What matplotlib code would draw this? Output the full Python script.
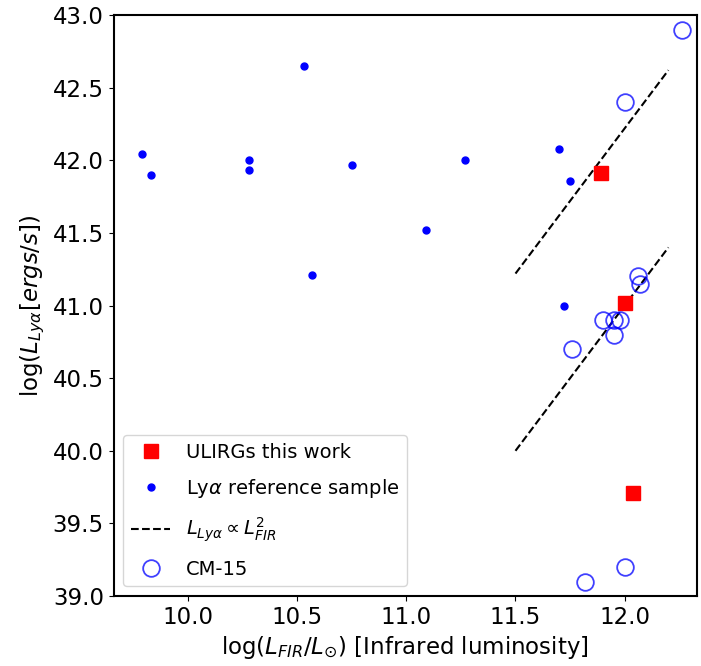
import matplotlib
matplotlib.use('Agg')
import matplotlib.pyplot as plt

# ULIRGs this work
ulirg_x = [11.89, 12.00, 12.04]
ulirg_y = [41.91, 41.02, 39.71]

# Lya reference sample
ref_x = [9.79, 9.83, 10.28, 10.28, 10.53, 10.57, 10.75, 11.09, 11.27, 11.70, 11.72, 11.75]
ref_y = [42.04, 41.90, 42.00, 41.93, 42.65, 41.21, 41.97, 41.52, 42.00, 42.08, 41.00, 41.86]

# CM-15
cm_x = [12.26, 12.00, 12.06, 12.07, 11.90, 11.95, 11.98, 11.95, 11.76, 12.00, 11.82]
cm_y = [42.90, 42.40, 41.20, 41.15, 40.90, 40.90, 40.90, 40.80, 40.70, 39.20, 39.10]

# L_Lya ~ L_FIR^2 guide lines
line_x = [11.5, 12.2]
upper_y = [41.22, 42.62]
lower_y = [40.0, 41.4]


def main():
    fig = plt.figure(figsize=(7.01, 6.66), dpi=100)
    ax = fig.add_axes([0.162, 0.105, 0.832, 0.8725])

    ax.plot(ulirg_x, ulirg_y, 's', color='red', markersize=10,
            label='ULIRGs this work', zorder=3)
    ax.plot(ref_x, ref_y, 'o', color='blue', markersize=5,
            label=r'Ly$\alpha$ reference sample', zorder=3)
    ax.plot(line_x, upper_y, '--', color='black', lw=1.5,
            label=r'$L_{Ly\alpha} \propto L_{FIR}^2$')
    ax.plot(line_x, lower_y, '--', color='black', lw=1.5)
    ax.plot(cm_x, cm_y, 'o', markerfacecolor='none', markeredgecolor='blue',
            alpha=0.75, markersize=12, markeredgewidth=1.3, label='CM-15', zorder=3)

    ax.set_xlim(9.66, 12.33)
    ax.set_ylim(39.0, 43.0)
    ax.set_xticks([10.0, 10.5, 11.0, 11.5, 12.0])
    ax.tick_params(labelsize=16.5)
    for s in ax.spines.values():
        s.set_linewidth(1.5)

    ax.set_xlabel(r'log($L_{FIR}/L_{\odot}$) [Infrared luminosity]', fontsize=16.5)
    ax.set_ylabel(r'log($L_{Ly\alpha}[ergs/s]$)', fontsize=16.5)

    ax.legend(loc='lower left', fontsize=14, labelspacing=0.8)

    fig.savefig('out.png', dpi=100)


if __name__ == "__main__":
    main()
